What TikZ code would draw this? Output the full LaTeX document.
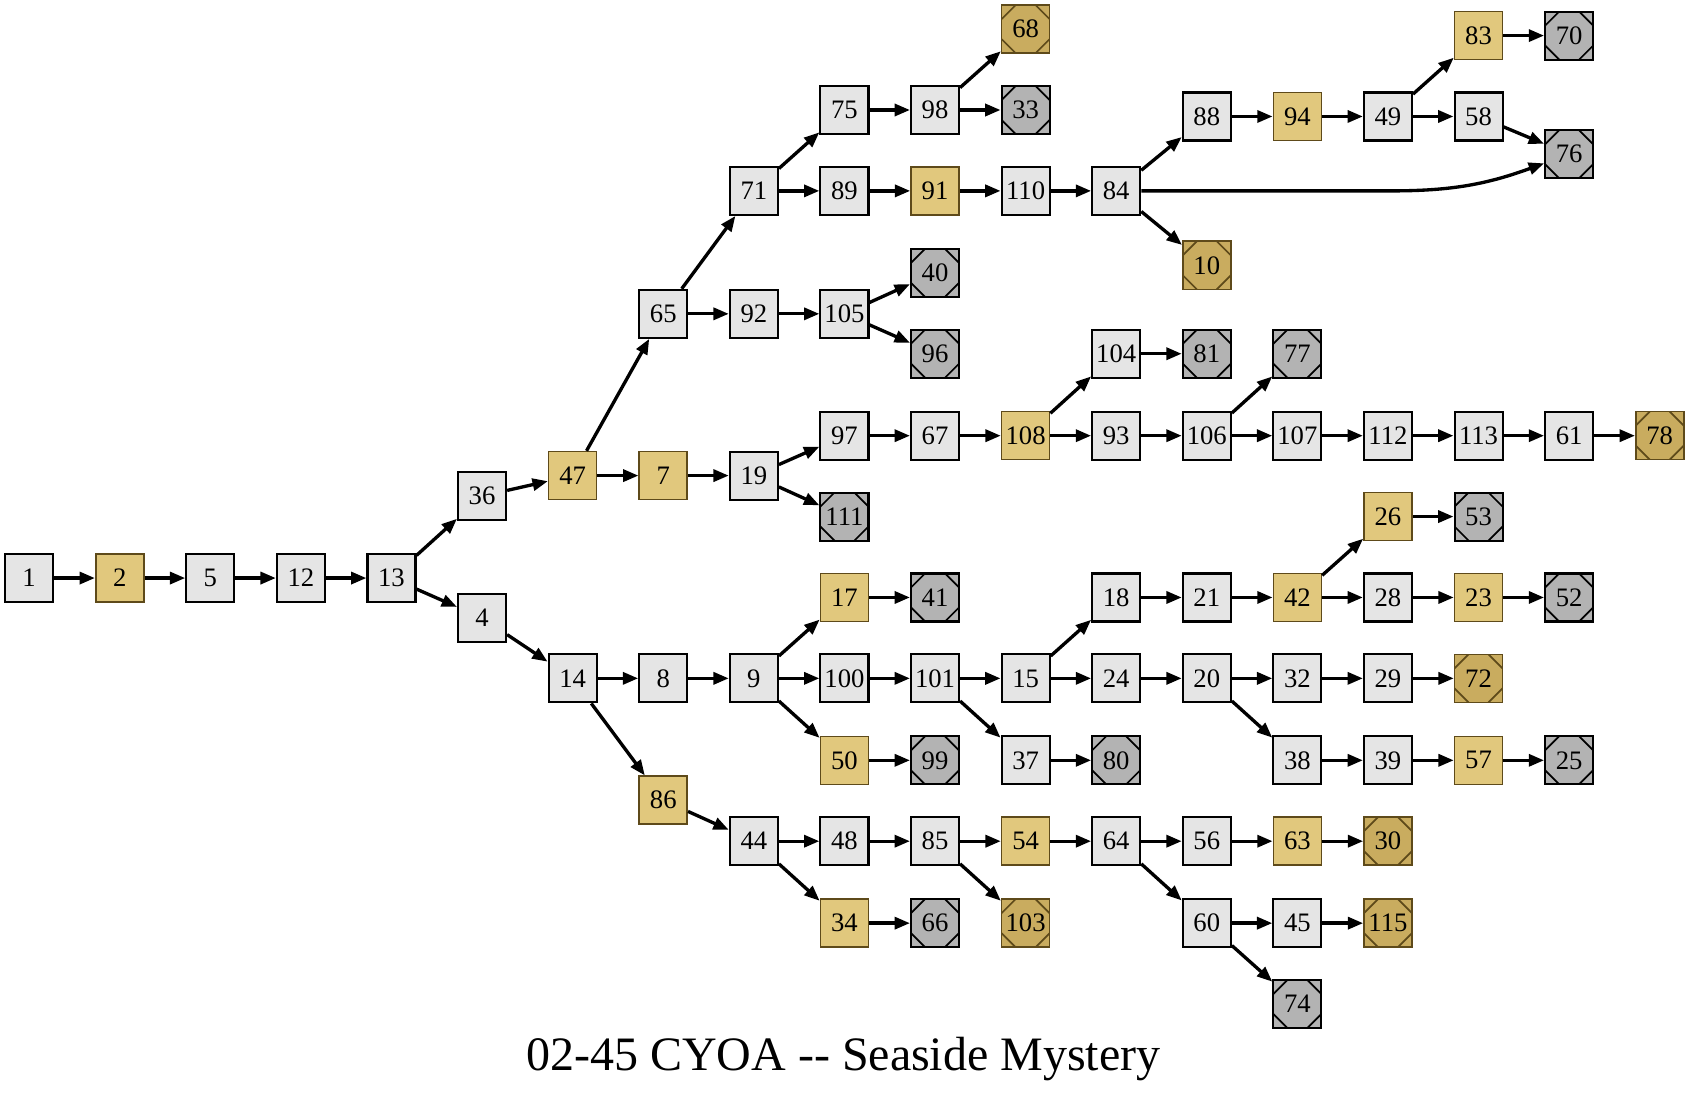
\documentclass[tikz,border=0pt]{standalone}
\usepackage{fontspec}
\setmainfont{Liberation Serif}
\usetikzlibrary{arrows.meta}
\definecolor{nfill}{HTML}{E5E5E5}
\definecolor{gfill}{HTML}{E1C87D}
\definecolor{gdraw}{HTML}{5E4A1A}
\definecolor{gefill}{HTML}{C9AC5F}
\definecolor{kfill}{HTML}{B3B3B3}
\begin{document}
\begin{tikzpicture}[x=0.8088pt,y=-0.8088pt,
 nodebase/.style={rectangle, minimum size=36pt, inner sep=0pt, font=\fontsize{20}{22}\selectfont, line width=1.6pt},
 nn/.style={nodebase, fill=nfill, draw=black},
 gn/.style={nodebase, fill=gfill, draw=gdraw, line width=1.2pt},
 msq/.style={path picture={
   \draw[line width=1.3pt,draw=#1]
   ([xshift=10.5pt]path picture bounding box.north west) -- ([yshift=-10.5pt]path picture bounding box.north west)
   ([xshift=-10.5pt]path picture bounding box.north east) -- ([yshift=-10.5pt]path picture bounding box.north east)
   ([xshift=10.5pt]path picture bounding box.south west) -- ([yshift=10.5pt]path picture bounding box.south west)
   ([xshift=-10.5pt]path picture bounding box.south east) -- ([yshift=10.5pt]path picture bounding box.south east);}},
 ge/.style={nodebase, fill=gefill, draw=gdraw, line width=1.2pt, msq=gdraw},
 ke/.style={nodebase, fill=kfill, draw=black, msq=black},
 conn/.style={-{Triangle[length=11.5pt,width=9pt]}, line width=2.5pt}
]
\useasboundingbox (0,0) rectangle (1568,1013);
% column 0-4
\node[nn] (n1) at (27,536) {1};
\node[gn] (n2) at (111,536) {2};
\node[nn] (n5) at (195,536) {5};
\node[nn] (n12) at (279,536) {12};
\node[nn] (n13) at (363,536) {13};
% k5
\node[nn] (n36) at (447,460) {36};
\node[nn] (n4) at (447,573) {4};
% k6
\node[gn] (n47) at (531,441) {47};
\node[nn] (n14) at (531,629) {14};
% k7
\node[nn] (n65) at (615,291) {65};
\node[gn] (n7) at (615,441) {7};
\node[nn] (n8) at (615,629) {8};
\node[gn] (n86) at (615,742) {86};
% k8
\node[nn] (n71) at (699,177) {71};
\node[nn] (n92) at (699,291) {92};
\node[nn] (n19) at (699,441) {19};
\node[nn] (n9) at (699,629) {9};
\node[nn] (n44) at (699,780) {44};
% k9
\node[nn] (n75) at (783,102) {75};
\node[nn] (n89) at (783,177) {89};
\node[nn] (n105) at (783,291) {105};
\node[nn] (n97) at (783,404) {97};
\node[ke] (n111) at (783,479) {111};
\node[gn] (n17) at (783,554) {17};
\node[nn] (n100) at (783,629) {100};
\node[gn] (n50) at (783,705) {50};
\node[nn] (n48) at (783,780) {48};
\node[gn] (n34) at (783,856) {34};
% k10
\node[nn] (n98) at (867,102) {98};
\node[gn] (n91) at (867,177) {91};
\node[ke] (n40) at (867,253) {40};
\node[ke] (n96) at (867,328) {96};
\node[nn] (n67) at (867,404) {67};
\node[ke] (n41) at (867,554) {41};
\node[nn] (n101) at (867,629) {101};
\node[ke] (n99) at (867,705) {99};
\node[nn] (n85) at (867,780) {85};
\node[ke] (n66) at (867,856) {66};
% k11
\node[ge] (n68) at (951,27) {68};
\node[ke] (n33) at (951,102) {33};
\node[nn] (n110) at (951,177) {110};
\node[gn] (n108) at (951,404) {108};
\node[nn] (n15) at (951,629) {15};
\node[nn] (n37) at (951,705) {37};
\node[gn] (n54) at (951,780) {54};
\node[ge] (n103) at (951,856) {103};
% k12
\node[nn] (n84) at (1035,177) {84};
\node[nn] (n104) at (1035,328) {104};
\node[nn] (n93) at (1035,404) {93};
\node[nn] (n18) at (1035,554) {18};
\node[nn] (n24) at (1035,629) {24};
\node[ke] (n80) at (1035,705) {80};
\node[nn] (n64) at (1035,780) {64};
% k13
\node[nn] (n88) at (1119,108) {88};
\node[ge] (n10) at (1119,246) {10};
\node[ke] (n81) at (1119,328) {81};
\node[nn] (n106) at (1119,404) {106};
\node[nn] (n21) at (1119,554) {21};
\node[nn] (n20) at (1119,629) {20};
\node[nn] (n56) at (1119,780) {56};
\node[nn] (n60) at (1119,856) {60};
% k14
\node[gn] (n94) at (1203,108) {94};
\node[ke] (n77) at (1203,328) {77};
\node[nn] (n107) at (1203,404) {107};
\node[gn] (n42) at (1203,554) {42};
\node[nn] (n32) at (1203,629) {32};
\node[nn] (n38) at (1203,705) {38};
\node[gn] (n63) at (1203,780) {63};
\node[nn] (n45) at (1203,856) {45};
\node[ke] (n74) at (1203,931) {74};
% k15
\node[nn] (n49) at (1287,108) {49};
\node[nn] (n112) at (1287,404) {112};
\node[gn] (n26) at (1287,479) {26};
\node[nn] (n28) at (1287,554) {28};
\node[nn] (n29) at (1287,629) {29};
\node[nn] (n39) at (1287,705) {39};
\node[ge] (n30) at (1287,780) {30};
\node[ge] (n115) at (1287,856) {115};
% k16
\node[gn] (n83) at (1371,33) {83};
\node[nn] (n58) at (1371,108) {58};
\node[nn] (n113) at (1371,404) {113};
\node[ke] (n53) at (1371,479) {53};
\node[gn] (n23) at (1371,554) {23};
\node[ge] (n72) at (1371,629) {72};
\node[gn] (n57) at (1371,705) {57};
% k17
\node[ke] (n70) at (1455,33) {70};
\node[ke] (n76) at (1455,143) {76};
\node[nn] (n61) at (1455,404) {61};
\node[ke] (n52) at (1455,554) {52};
\node[ke] (n25) at (1455,705) {25};
% k18
\node[ge] (n78) at (1539,404) {78};
% title
\node[anchor=base, font=\fontsize{36}{40}\selectfont, inner sep=0pt] (title) at (782,993) {02-45 CYOA -{}- Seaside Mystery};
% edges
\foreach \a/\b in {1/2,2/5,5/12,12/13,13/36,13/4,36/47,47/65,47/7,4/14,14/8,14/86,
 65/71,65/92,7/19,8/9,86/44,71/75,71/89,92/105,19/97,19/111,9/17,9/100,9/50,44/48,44/34,
 75/98,89/91,105/40,105/96,97/67,17/41,100/101,50/99,48/85,34/66,98/68,98/33,91/110,67/108,
 101/15,101/37,85/54,85/103,110/84,108/104,108/93,15/18,15/24,37/80,54/64,84/88,84/10,
 104/81,93/106,18/21,24/20,64/56,64/60,88/94,106/77,106/107,21/42,20/32,20/38,56/63,60/45,60/74,
 94/49,107/112,42/26,42/28,32/29,38/39,63/30,45/115,49/83,49/58,112/113,26/53,28/23,29/72,
 39/57,83/70,58/76,113/61,23/52,57/25,61/78}
 {\draw[conn] (n\a) -- (n\b);}
\coordinate (k84) at (1290,177);
\draw[conn] (n84.east) -- (k84) to[out=0,in=200] (n76);
\end{tikzpicture}
\end{document}
